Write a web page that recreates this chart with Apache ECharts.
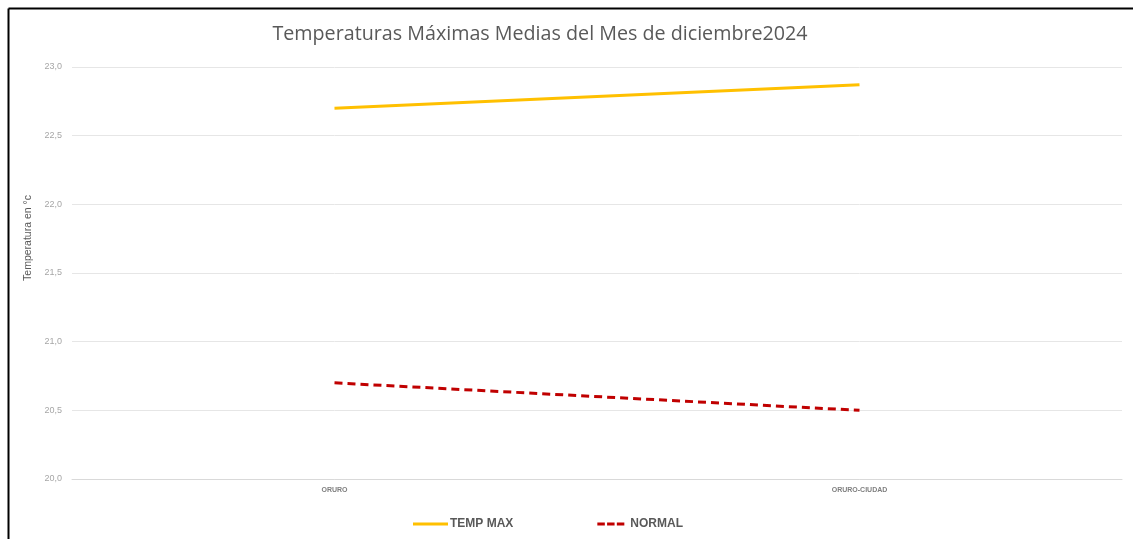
<!DOCTYPE html>
<html><head><meta charset="utf-8">
<script src="https://cdn.jsdelivr.net/npm/echarts@6/dist/echarts.min.js"></script>
<style>html,body{margin:0;padding:0;background:#fff}#c{width:1133px;height:539px}</style>
</head><body><div id="c"></div>
<script>
const categories = ['ORURO', 'ORURO-CIUDAD'];
const tempMax = [22.70, 22.87];
const normal = [20.70, 20.50];
const yTicks = {min: 20, max: 23, interval: 0.5};
const yAxisTitle = 'Temperatura en °c';

const chart = echarts.init(document.getElementById('c'));
chart.setOption({
  animation: false,
  backgroundColor: '#fff',
  title: {
    text: 'Temperaturas Máximas Medias del Mes de diciembre2024',
    left: 535, top: 19, textAlign: 'center',
    textStyle: {fontFamily: 'Open Sans', fontWeight: 'normal', fontSize: 19.7, color: '#595959'}
  },
  graphic: [
    {type: 'line', shape: {x1: 8.5, y1: 8.5, x2: 1133, y2: 8.5}, style: {stroke: '#000', lineWidth: 2}},
    {type: 'line', shape: {x1: 8.5, y1: 8.5, x2: 8.5, y2: 539}, style: {stroke: '#000', lineWidth: 2}},
    {type: 'text', x: 28, y: 238, rotation: Math.PI / 2,
     style: {text: yAxisTitle, fontFamily: 'Liberation Sans', fontSize: 10.5, fill: '#595959',
             align: 'center', verticalAlign: 'middle'}}
  ],
  legend: {
    bottom: 4, left: 408, itemGap: 84, itemWidth: 35, itemHeight: 3,
    icon: 'rect',
    textStyle: {fontFamily: 'Liberation Sans', fontWeight: 'bold', fontSize: 12, color: '#595959', padding: [0, 0, 0, -3]},
    data: [
      {name: 'TEMP MAX', itemStyle: {color: '#FFC000'}},
      {name: 'NORMAL', icon: 'path://M0,0H10V4H0Z M13,0H23V4H13Z M26,0H36V4H26Z', itemStyle: {color: '#C00000'}}
    ]
  },
  grid: {left: 72, right: 11, top: 67, bottom: 60, containLabel: false},
  xAxis: {
    type: 'category', data: categories, boundaryGap: true,
    axisLine: {show: true, lineStyle: {color: '#d9d9d9'}},
    axisTick: {show: false},
    axisLabel: {fontFamily: 'Liberation Sans', fontSize: 7, fontWeight: 'bold', color: '#7f7f7f', margin: 8}
  },
  yAxis: {
    type: 'value', min: yTicks.min, max: yTicks.max, interval: yTicks.interval,
    axisLine: {show: false}, axisTick: {show: false},
    axisLabel: {fontFamily: 'Liberation Sans', fontSize: 9, color: '#a6a6a6', margin: 10,
      formatter: v => v.toFixed(1).replace('.', ',')},
    splitLine: {lineStyle: {color: '#e6e6e6', width: 1}}
  },
  series: [
    {name: 'TEMP MAX', type: 'line', data: tempMax, symbol: 'none',
     lineStyle: {color: '#FFC000', width: 3}, itemStyle: {color: '#FFC000'}},
    {name: 'NORMAL', type: 'line', data: normal, symbol: 'none',
     lineStyle: {color: '#C00000', width: 3, type: [8, 5]}, itemStyle: {color: '#C00000'}}
  ]
});
</script></body></html>
